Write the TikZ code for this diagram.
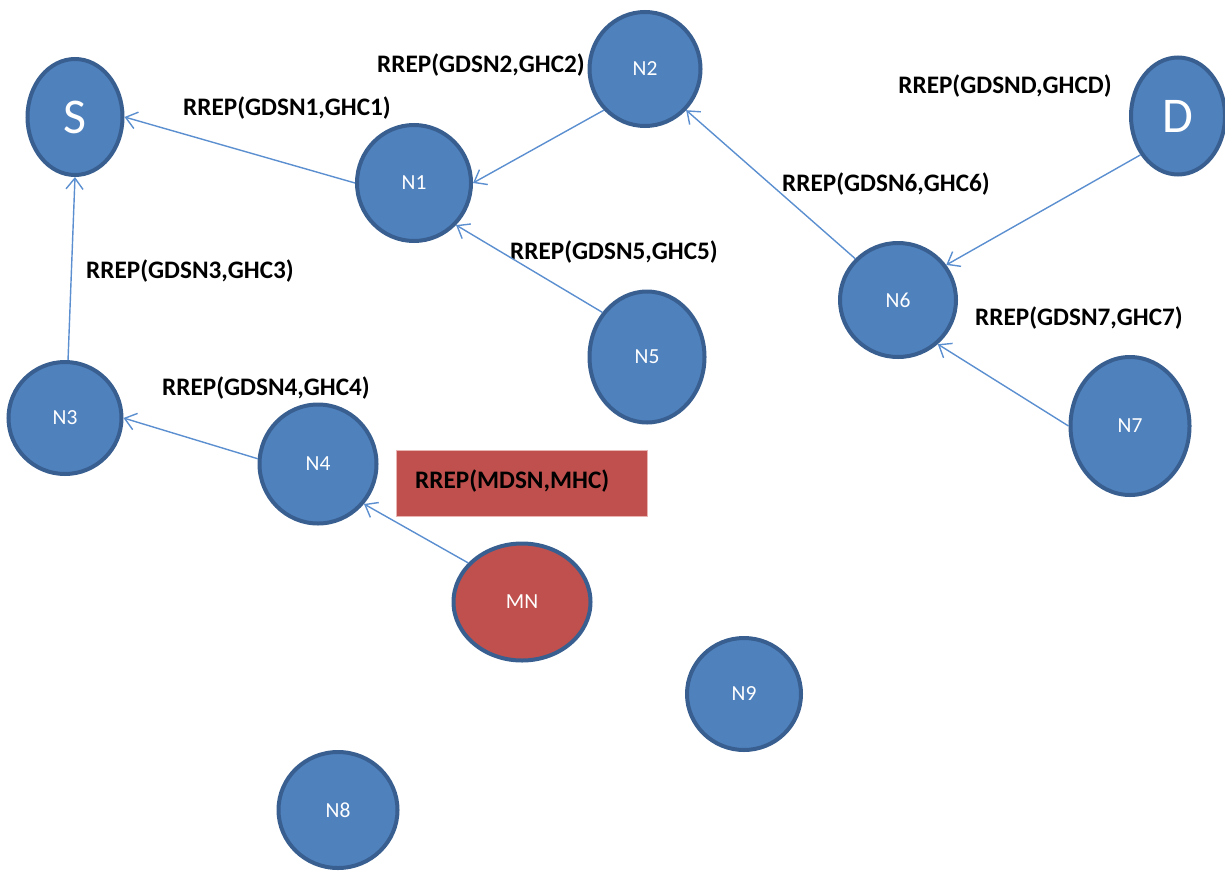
\documentclass[tikz,border=0pt]{standalone}
\usepackage{fontspec}
\setmainfont{Carlito}
\usetikzlibrary{shapes.geometric,arrows.meta}
\definecolor{nodeblue}{HTML}{4F81BD}
\definecolor{nodeborder}{HTML}{385F90}
\definecolor{arrowblue}{HTML}{5B8FCF}
\definecolor{mnred}{HTML}{C0504D}
\definecolor{boxborder}{HTML}{E8B5B3}
\tikzset{
  nd/.style={ellipse, draw=nodeborder, line width=4pt, fill=nodeblue, text=white,
    inner sep=0pt, font=\fontsize{21.5}{21.5}\selectfont},
  big/.style={font=\fontsize{50}{50}\selectfont},
  lbl/.style={font=\bfseries\fontsize{25.2}{25.2}\selectfont, text=black, inner sep=0pt},
  conn/.style={draw=arrowblue, line width=1.4pt, -{Straight Barb[length=11pt,width=17pt,line width=1.4pt]}},
}
\begin{document}
\begin{tikzpicture}[x=1pt,y=-1pt]
\useasboundingbox (0,0) rectangle (1225,870);
% nodes
\node[nd,big,minimum width=95pt,minimum height=116pt] (S) at (75,117) {S};
\node[nd,minimum width=111pt,minimum height=114pt] (N2) at (645,69) {N2};
\node[nd,minimum width=114pt,minimum height=116pt] (N1) at (414,183) {N1};
\node[nd,big,minimum width=94pt,minimum height=117pt] (D) at (1178,116) {D};
\node[nd,minimum width=116pt,minimum height=114pt] (N6) at (898,300) {N6};
\node[nd,minimum width=115pt,minimum height=131pt] (N5) at (647,357) {N5};
\node[nd,minimum width=113pt,minimum height=112pt] (N3) at (65,418) {N3};
\node[nd,minimum width=117pt,minimum height=119pt] (N4) at (318,464) {N4};
\node[nd,minimum width=119pt,minimum height=138pt] (N7) at (1130,426) {N7};
\node[nd,fill=mnred,minimum width=137pt,minimum height=117pt] (MN) at (522,602) {MN};
\node[nd,minimum width=114pt,minimum height=112pt] (N9) at (744,694) {N9};
\node[nd,minimum width=119pt,minimum height=116pt] (N8) at (338,810) {N8};
% red box
\node[draw=boxborder, line width=0.8pt, fill=mnred, minimum width=251pt, minimum height=66pt, inner sep=0pt] (box) at (521.5,483) {};
\node[lbl, anchor=west] (boxtext) at (415,481) {RREP(MDSN,MHC)};
% labels
\node[lbl] (l2) at (481,65) {RREP(GDSN2,GHC2)};
\node[lbl] (l1) at (287,108) {RREP(GDSN1,GHC1)};
\node[lbl] (lD) at (1005,86) {RREP(GDSND,GHCD)};
\node[lbl] (l6) at (886,184) {RREP(GDSN6,GHC6)};
\node[lbl] (l5) at (614,252) {RREP(GDSN5,GHC5)};
\node[lbl] (l3) at (190,271) {RREP(GDSN3,GHC3)};
\node[lbl] (l7) at (1079,318) {RREP(GDSN7,GHC7)};
\node[lbl] (l4) at (266,388) {RREP(GDSN4,GHC4)};
% connectors
\draw[conn] (N1.west) -- (S.east);
\draw[conn] (N2.225) -- (N1.east);
\draw[conn] (N5.135) -- (N1.-45);
\draw[conn] (N3.87) -- (S.south);
\draw[conn] (N4.175) -- (N3.east);
\draw[conn] (MN.144) -- (N4.-41);
\draw[conn] (D.226) -- (N6.36);
\draw[conn] (N6.136) -- (N2.-45);
\draw[conn] (N7.west) -- (N6.-48);
\end{tikzpicture}
\end{document}
